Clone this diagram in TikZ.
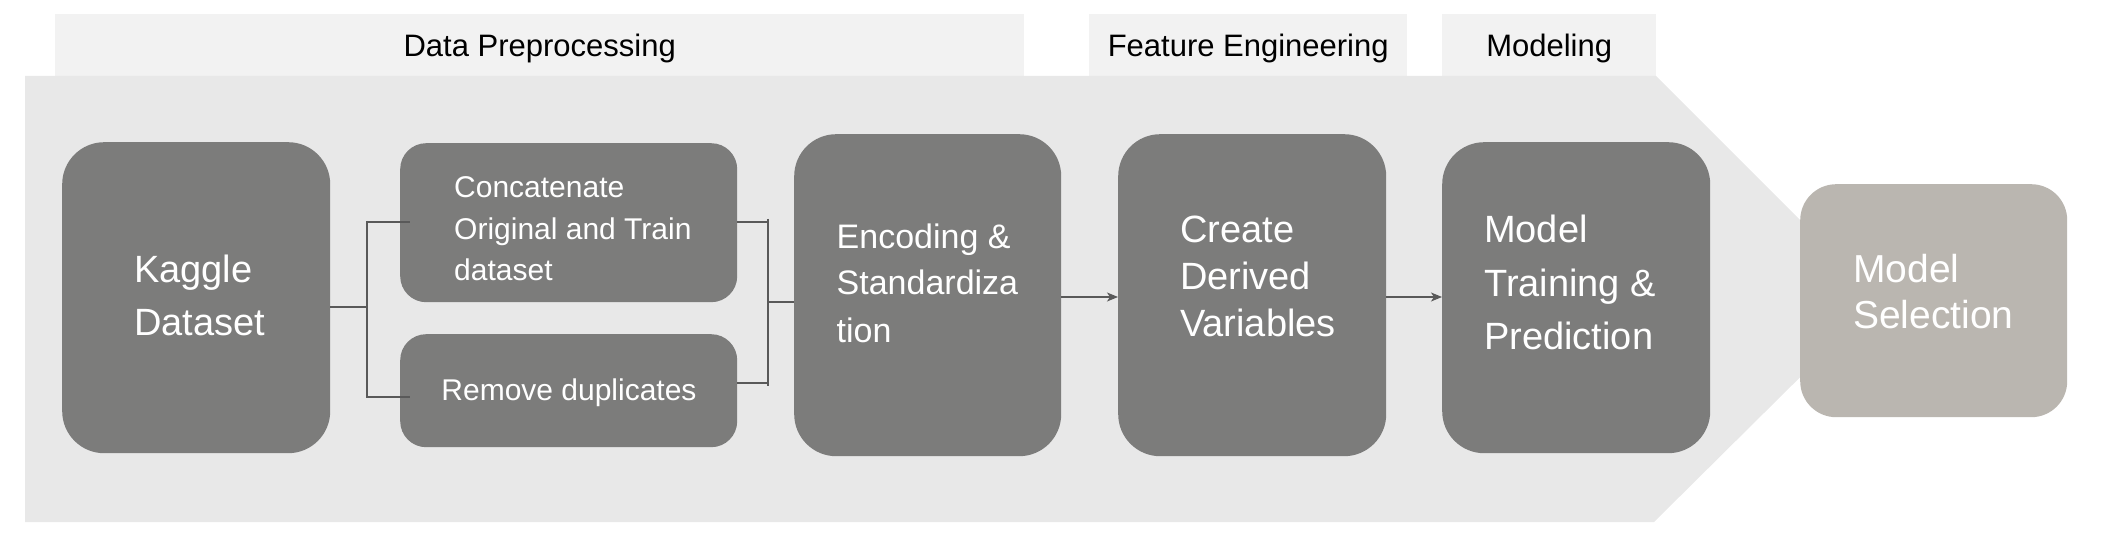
\documentclass[tikz,border=0pt]{standalone}
\usepackage{fontspec}
\setmainfont{Liberation Sans}
\usetikzlibrary{arrows.meta}
\definecolor{boxgray}{HTML}{7C7C7B}
\definecolor{areagray}{HTML}{E8E8E8}
\definecolor{bandgray}{HTML}{F2F2F2}
\definecolor{selgray}{HTML}{BAB6B0}
\definecolor{linegray}{HTML}{595959}
\newcommand\stk[1]{\begin{tabular}[t]{@{}l@{}}#1\end{tabular}}
\begin{document}
\begin{tikzpicture}[x=1pt,y=-1pt,
  band/.style={fill=bandgray, inner sep=0pt, anchor=north west,
    font=\fontsize{31}{36}\selectfont, text height=23.4pt, text depth=0pt, minimum height=62pt},
  box/.style={fill=boxgray, inner sep=0pt, anchor=north west, rounded corners=42pt},
  smallbox/.style={box, rounded corners=26pt},
  selbox/.style={box, fill=selgray, rounded corners=36pt},
  lbl/.style={text=white, inner sep=0pt, anchor=base west},
  conn/.style={draw=linegray, line width=1.3pt},
  arr/.style={conn, -{Stealth[length=11pt,width=9pt,inset=3pt]}}
]
\useasboundingbox (0,0) rectangle (2102,548);
% bands
\node[band, minimum width=969pt] (bdp) at (55,14) {Data Preprocessing};
\node[band, minimum width=318pt] (bfe) at (1089,14) {Feature Engineering};
\node[band, minimum width=214pt] (bmo) at (1442,14) {Modeling};
% background arrow area
\fill[areagray] (25,76) -- (1656,76) -- (1879,299) -- (1654,522) -- (25,522) -- cycle;
% boxes
\node[box, minimum width=268pt, minimum height=311pt] (kag) at (62,142) {};
\node[smallbox, minimum width=337pt, minimum height=159pt] (cat) at (400,143) {};
\node[smallbox, minimum width=337pt, minimum height=113pt] (rem) at (400,334) {};
\node[box, minimum width=267pt, minimum height=322pt] (enc) at (794,134) {};
\node[box, minimum width=268pt, minimum height=322pt] (crt) at (1118,134) {};
\node[box, minimum width=268pt, minimum height=311pt] (trn) at (1442,142) {};
\node[selbox, minimum width=267pt, minimum height=233pt] (sel) at (1800,184) {};
% connectors
\coordinate (jl) at (367,307);
\coordinate (lt) at (367,222);
\coordinate (lb) at (367,397);
\coordinate (rt) at (768,222);
\coordinate (rb) at (768,383);
\coordinate (jr) at (768,302);
\coordinate (ay) at (0,297);
\draw[conn] (kag.east |- jl) -- (jl);
\draw[conn, shorten <=-1pt, shorten >=-1pt] (lt) -- (lb);
\draw[conn] (lt) -- ([xshift=10pt]cat.west |- lt);
\draw[conn] (lb) -- ([xshift=10pt]rem.west |- lb);
\draw[conn] (cat.east |- rt) -- (rt);
\draw[conn] (rem.east |- rb) -- (rb);
\draw[conn, shorten <=-3pt, shorten >=-3pt] (rt) -- (rb);
\draw[conn] (jr) -- (enc.west |- jr);
\draw[arr] (enc.east |- ay) -- (crt.west |- ay);
\draw[arr] (crt.east |- ay) -- (trn.west |- ay);
% labels
\node[lbl, font=\fontsize{38}{53.5}\selectfont] (kagT) at (134,282) {\stk{Kaggle\\Dataset}};
\node[lbl, font=\fontsize{30}{41.7}\selectfont] (catT) at (454,197.5) {\stk{Concatenate\\Original and Train\\dataset}};
\node[lbl, anchor=base, font=\fontsize{30}{36}\selectfont] (remT) at (569,400) {Remove duplicates};
\node[lbl, font=\fontsize{34}{47}\selectfont] (encT) at (836.5,248) {\stk{Encoding \&\\Standardiza\\tion}};
\node[lbl, font=\fontsize{38}{47}\selectfont] (crtT) at (1180,243) {\stk{Create\\Derived\\Variables}};
\node[lbl, font=\fontsize{38}{53.4}\selectfont] (trnT) at (1484,243) {\stk{Model\\Training \&\\Prediction}};
\node[lbl, font=\fontsize{39}{46.6}\selectfont] (selT) at (1853,282) {\stk{Model\\Selection}};
\end{tikzpicture}
\end{document}
